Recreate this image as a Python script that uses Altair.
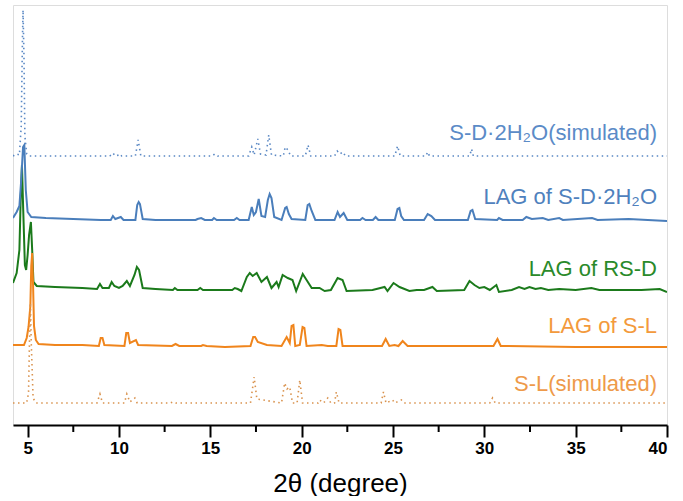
import altair as alt
import pandas as pd

# ---------------- data (2theta in degree, intensity in a.u.) ----------------
sd_sim_x = [4.2, 4.4, 4.55, 4.65, 4.72, 4.75, 4.8, 4.85, 4.95, 5.1, 9.5, 9.67, 9.8, 10.0, 10.05, 10.15,
            10.9, 11.05, 11.2, 15.1, 15.24, 15.4, 17.1, 17.27, 17.4, 17.6, 17.75, 18.05, 18.2, 18.35,
            19.0, 19.1, 19.25, 19.4, 20.2, 20.35, 20.5, 21.8, 21.95, 22.1, 22.25, 22.4, 25.1, 25.25,
            25.4, 26.8, 26.9, 27.0, 29.2, 29.3, 29.4, 40.0]
sd_sim_y = [0, 2, 1, 30, 120, 146, 100, 20, 2, 0, 0, 3, 0, 1, 2, 0,
            0, 16, 0, 0, 2, 0, 0, 9, 1, 17, 2, 1, 21, 1,
            0, 9, 6, 0, 0, 11, 0, 0, 5, 2, 4, 0, 0, 10,
            0, 0, 4, 0, 0, 7, 0, 0]

sd_lag_x = [4.2, 4.4, 4.55, 4.65, 4.75, 4.82, 4.9, 5.0, 5.2, 6.0, 7.5, 9.0, 9.55, 9.67, 9.8, 10.1, 10.25,
            10.9, 11.0, 11.08, 11.15, 11.3, 12.0, 14.2, 14.3, 14.5, 14.7, 15.1, 15.2, 15.35, 16.3, 16.45, 16.6,
            17.1, 17.27, 17.38, 17.5, 17.65, 17.8, 18.0, 18.15, 18.25, 18.35, 18.5, 18.9, 19.1, 19.18, 19.3, 19.45,
            20.2, 20.33, 20.42, 20.55, 20.75, 21.8, 21.97, 22.1, 22.3, 22.5, 23.2, 23.33, 23.5, 23.9, 24.05,
            24.2, 25.1, 25.25, 25.35, 25.45, 25.6, 26.7, 26.9, 27.1, 27.3, 29.1, 29.25, 29.35, 29.5, 30.7, 30.8,
            31.0, 32.1, 32.3, 32.6, 33.2, 33.5, 34.1, 34.3, 35.9, 36.2, 37.9, 40.0]
sd_lag_y = [2, 8, 14, 40, 73, 75, 30, 8, 3, 2, 1, 0, 0, 4, 1, 3, 0,
            0, 15, 18, 16, 1, 0, 0, 1, 2, 0, 0, 2, 0, 0, 2, 0,
            0, 13, 5, 8, 21, 4, 3, 20, 26, 22, 3, 0, 12, 13, 6, 1,
            0, 15, 16, 9, 0, 0, 8, 3, 7, 0, 0, 2, 0, 0, 3,
            0, 0, 11, 12, 4, 0, 0, 6, 4, 0, 0, 9, 10, 1, 0, 2,
            0, 0, 3, 1, 2, 0, 2, 0, 2, 0, 1, -1]

rsd_lag_x = [4.2, 4.4, 4.55, 4.62, 4.69, 4.76, 4.85, 4.92, 5.0, 5.08, 5.18, 5.25, 5.32, 5.5, 6.5, 8.0,
             8.8, 8.96, 9.1, 9.45, 9.6, 9.75, 10.0, 10.2, 10.43, 10.6, 10.85, 10.98, 11.1, 11.3, 12.0,
             12.95, 13.06, 13.2, 14.3, 14.45, 14.6, 16.2, 16.34, 16.5, 16.7, 17.0, 17.16, 17.32,
             17.54, 17.8, 18.1, 18.35, 18.63, 18.74, 18.96, 19.24, 19.5, 19.7, 20.06, 20.27, 20.55,
             20.98, 21.26, 21.6, 21.97, 22.24, 22.46, 23.88, 24.54, 24.7, 25.03, 25.36, 25.9, 26.3,
             26.7, 27.16, 27.4, 28.9, 29.19, 29.46, 29.73, 30.0, 30.3, 30.66, 30.8, 31.5, 31.9, 32.2,
             32.47, 32.8, 33.1, 33.5, 34.1, 35.0, 35.86, 36.3, 37.55, 38.6, 39.6, 40.0]
rsd_lag_y = [7, 17, 40, 90, 125, 80, 25, 20, 35, 55, 68, 40, 8, 4, 3, 2,
             1, 6, 2, 2, 8, 4, 2, 4, 9, 4, 15, 23, 20, 2, 1,
             0, 2, 0, 0, 2, 0, 0, 2, 1, -1, 13, 17, 14,
             17, 8, 13, 2, 8, 3, 15, 12, 10, -1, 16, 10, 2,
             2, -1, 0, 12, 10, -1, 0, 3, -1, 7, 3, -1, 0,
             0, 3, -1, 0, 9, 5, 2, 3, 0, 5, -2, 0, 3, 1,
             3, 1, 2, 0, 1, 0, 2, 0, 0, 0, 1, -2]

sl_lag_x = [4.2, 4.8, 4.95, 5.05, 5.15, 5.2, 5.25, 5.3, 5.35, 5.45, 5.6, 6.5, 8.0, 8.9, 9.0, 9.1, 9.2,
            10.3, 10.4, 10.5, 10.6, 10.93, 11.05, 12.9, 13.1, 13.3, 14.5, 14.6, 14.8, 15.8, 17.2, 17.35, 17.45,
            17.6, 18.1, 18.9, 19.18, 19.35, 19.45, 19.55, 19.65, 19.9, 20.05, 20.15, 20.27, 21.1, 21.43, 21.9,
            22.02, 22.12, 22.24, 24.4, 24.6, 24.8, 25.09, 25.3, 25.53, 25.8, 30.5, 30.72, 30.9, 35.0, 40.0]
sl_lag_y = [1, 1, 8, 19, 40, 80, 93, 60, 20, 6, 2, 1, 1, 0, 8, 8, 1,
            0, 13, 13, 3, 6, 1, 0, 2, 0, 0, 1, 0, -1, 0, 9, 9,
            4, 1, 0, 9, 3, 20, 21, 0, 1, 19, 18, 0, 1, 0, 0,
            17, 16, 0, 0, 7, 0, 1, 0, 5, 0, 0, 7, 0, -1, -1]

sl_sim_x = [4.2, 4.95, 5.05, 5.1, 5.15, 5.2, 5.3, 5.45, 8.8, 8.96, 9.1, 10.3, 10.43, 10.6, 10.87, 11.0,
            12.8, 12.95, 13.1, 17.2, 17.4, 17.55, 18.9, 19.07, 19.2, 19.35, 19.5, 19.75, 19.9, 20.05,
            20.9, 20.98, 21.2, 21.43, 21.6, 21.8, 21.9, 22.05, 24.35, 24.48, 24.62, 24.98, 25.1,
            25.46, 25.6, 30.3, 30.45, 30.6, 40.0]
sl_sim_y = [0, 0, 10, 60, 100, 60, 5, 0, 0, 9, 0, 0, 9, 1, 5, 0,
            0, 1, 0, 0, 26, 4, 0, 20, 14, 16, 0, 0, 23, 0,
            0, 3, 0, 5, 0, 0, 11, 0, 0, 11, 0, 3, 0,
            3, 0, 0, 5, 0, 0]

series_names = ["S-D·2H₂O(simulated)", "LAG of S-D·2H₂O", "LAG of RS-D", "LAG of S-L", "S-L(simulated)"]
series_offsets = [269, 205, 135, 79, 22]
series_x = [sd_sim_x, sd_lag_x, rsd_lag_x, sl_lag_x, sl_sim_x]
series_y = [sd_sim_y, sd_lag_y, rsd_lag_y, sl_lag_y, sl_sim_y]
series_colors = ["#5A88C4", "#4A7EBB", "#1B7A1B", "#F0851C", "#D9924D"]
label_colors = ["#5B8BC7", "#4F81BD", "#2A8A2A", "#F39A3C", "#EE9A4A"]
series_dotted = [True, False, False, False, True]

major_ticks = [5, 10, 15, 20, 25, 30, 35, 40]
minor_ticks = [7.5, 12.5, 17.5, 22.5, 27.5, 32.5, 37.5]

# ---------------- chart ----------------
W, H = 654, 420
FONT = "Liberation Sans"
xscale = alt.Scale(domain=[4.2, 40], nice=False, zero=False)
yscale = alt.Scale(domain=[0, H], nice=False, zero=False)

layers = []
draw_order = [2, 3, 4, 1, 0]
for i in draw_order:
    df = pd.DataFrame({"t": series_x[i], "I": [v + series_offsets[i] for v in series_y[i]],
                       "o": list(range(len(series_x[i])))})
    mk = dict(color=series_colors[i], strokeWidth=1.6 if series_dotted[i] else 2.0, clip=True)
    if series_dotted[i]:
        mk["strokeDash"] = [1.5, 3.5]
    layers.append(
        alt.Chart(df).mark_line(**mk).encode(
            x=alt.X("t:Q", scale=xscale,
                    axis=alt.Axis(values=major_ticks, title="2θ (degree)", format="d",
                                  grid=False, domainColor="black", domainWidth=2,
                                  tickColor="black", tickWidth=2, tickSize=12,
                                  labelFont=FONT, labelFontSize=17, labelFontWeight="bold",
                                  labelColor="black", labelPadding=3,
                                  titleFont=FONT, titleFontSize=26, titleFontWeight="normal",
                                  titleColor="black", titlePadding=14)),
            y=alt.Y("I:Q", scale=yscale, axis=None),
            order="o:Q",
        )
    )

label_df = pd.DataFrame({"name": series_names, "c": label_colors,
                         "y": [292, 228, 156, 99, 41]})
labels = alt.Chart(label_df).mark_text(align="right", baseline="middle", font=FONT,
                                       fontSize=22).encode(
    x=alt.value(644),
    y=alt.Y("y:Q", scale=yscale),
    text="name:N",
    color=alt.Color("c:N", scale=None),
)

minor_df = pd.DataFrame({"t": minor_ticks})
minor = alt.Chart(minor_df).mark_rule(color="black", strokeWidth=2).encode(
    x=alt.X("t:Q", scale=xscale),
    y=alt.value(H),
    y2=alt.value(H + 7),
)

chart = alt.layer(*layers, minor, labels).properties(
    width=W, height=H,
    padding={"left": 13, "top": 5, "right": 4, "bottom": 0},
).configure_view(stroke=None).configure(background="white")

chart.save("out.html", embed_options={"renderer": "svg", "actions": False})
